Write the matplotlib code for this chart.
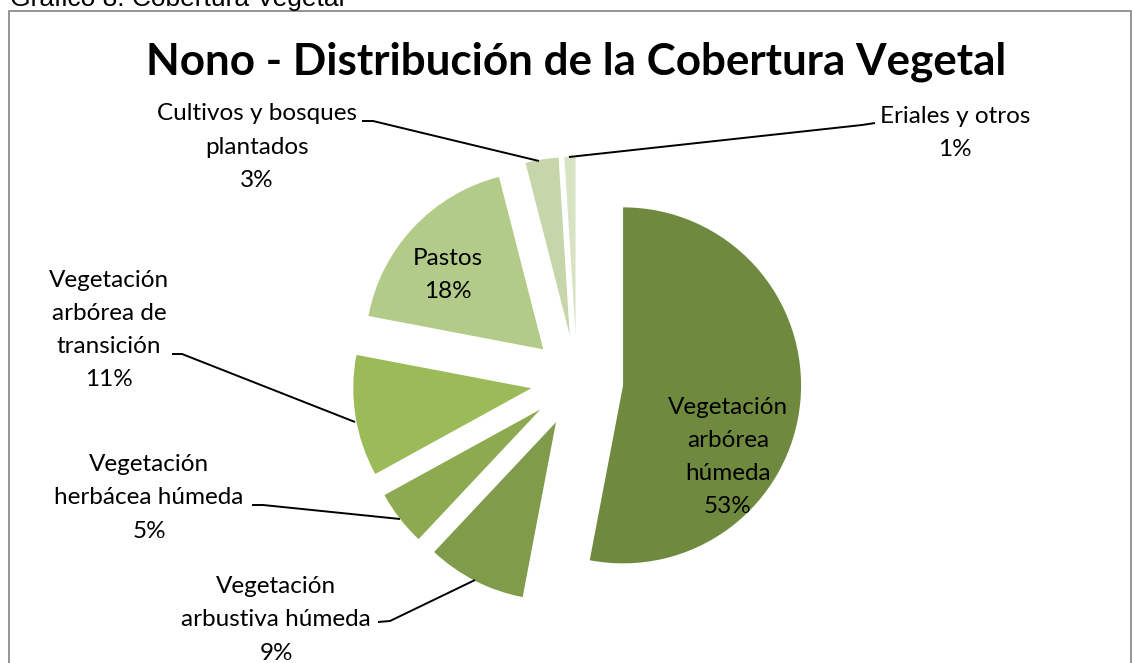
import matplotlib
matplotlib.use("Agg")
import matplotlib.pyplot as plt
from matplotlib.patches import Rectangle

# ---- data ----
categories = [
    "Vegetación arbórea húmeda",
    "Vegetación arbustiva húmeda",
    "Vegetación herbácea húmeda",
    "Vegetación arbórea de transición",
    "Pastos",
    "Cultivos y bosques plantados",
    "Eriales y otros",
]
values = [53, 9, 5, 11, 18, 3, 1]
label_text = [
    "Vegetación\narbórea\nhúmeda",
    "Vegetación\narbustiva húmeda",
    "Vegetación\nherbácea húmeda",
    "Vegetación\narbórea de\ntransición",
    "Pastos",
    "Cultivos y bosques\nplantados",
    "Eriales y otros",
]
colors = ["#6F8A3F", "#809B49", "#8DAA50", "#9BBB59", "#B3CB89", "#C6D6AA", "#D7E3C3"]
title = "Nono - Distribución de la Cobertura Vegetal"
caption = "Gráfico 8: Cobertura Vegetal"

# ---- layout ----
W, H = 1132, 663
CX, CY, R = 577, 381, 178  # pie centre / radius in pixels

def P(px, py):
    return ((px - CX) / R, (CY - py) / R)

fig = plt.figure(figsize=(W / 100, H / 100), dpi=100)
ax = fig.add_axes([0, 0, 1, 1])
x0, y1 = P(0, 0)
x1, y0 = P(W, H)

font = "Lato"

ax.pie(values, colors=colors, startangle=90, counterclock=False,
       explode=[0.26] * len(values), radius=1, center=(0, 0),
       wedgeprops=dict(linewidth=0), frame=True)
ax.set_xlim(x0, x1)
ax.set_ylim(y0, y1)
ax.set_aspect("auto")
ax.axis("off")

# labels: centre in px
label_pos = [(728, 457), (276, 620), (149, 498), (109, 330), (448, 275), (257, 147), (955, 133)]
leaders = [
    None,
    [(378, 622), (390, 621), (475, 580)],
    [(252, 505), (263, 505), (400, 519)],
    [(172, 354), (182, 354), (355, 422)],
    None,
    [(362, 121), (373, 121), (539, 161)],
    [(875, 123), (862, 125), (569, 157)],
]
fs = 17.5
for txt, v, (px, py), ld in zip(label_text, values, label_pos, leaders):
    ax.text(*P(px, py), f"{txt}\n{v}%", ha="center", va="center",
            fontsize=fs, family=font, color="black", linespacing=1.72, zorder=5)
    if ld:
        xs, ys = zip(*[P(a, b) for a, b in ld])
        ax.plot(xs, ys, color="black", lw=1.4, solid_capstyle="butt", zorder=4)

ax.text(*P(576, 62), title, ha="center", va="center", fontsize=31.7,
        family=font, fontweight="bold", color="black")

fig.text(10 / W, 1 - 6 / H, caption, ha="left", va="baseline",
         fontsize=19, family="Liberation Sans", color="black")

fig.patches.append(Rectangle((9 / W, -0.05), (1131 - 9) / W, 1.05 - 11 / H,
                             transform=fig.transFigure, fill=False,
                             edgecolor="#8C8C8C", linewidth=1.3))

fig.savefig("out.png", dpi=100)
